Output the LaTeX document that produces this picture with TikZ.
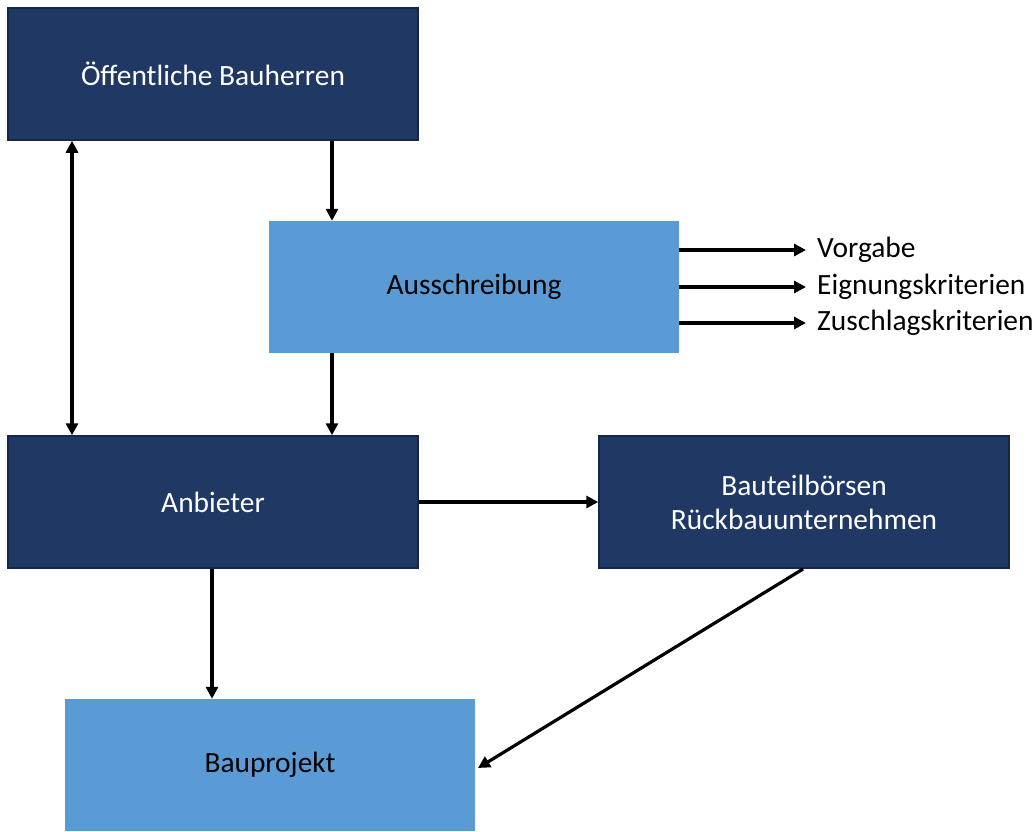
\documentclass[tikz,border=0pt]{standalone}
\usepackage{fontspec}
\setmainfont{Carlito}
\usetikzlibrary{arrows.meta}
\definecolor{darkbox}{HTML}{203864}
\definecolor{darkedge}{HTML}{15264A}
\definecolor{lightbox}{HTML}{5B9BD5}
\begin{document}
\begin{tikzpicture}[x=1pt,y=-1pt,
  dbox/.style={draw=darkedge,line width=1.5pt,fill=darkbox,text=white,minimum width=410pt,minimum height=132pt,inner sep=0pt,align=center,font=\fontsize{29.4}{34}\selectfont},
  lbox/.style={draw=none,fill=lightbox,text=black,minimum width=410pt,minimum height=132pt,inner sep=0pt,align=center,font=\fontsize{29.4}{34}\selectfont},
  arr/.style={line width=3.2pt,-{Triangle[length=12pt,width=12pt]}},
  darr/.style={line width=3.2pt,{Triangle[length=12pt,width=12pt]}-{Triangle[length=12pt,width=12pt]}},
  lab/.style={anchor=west,inner sep=0pt,font=\fontsize{29.4}{34}\selectfont}]
\useasboundingbox (0,0) rectangle (1036,831);
\node[dbox] (bh) at (213,74) {Öffentliche Bauherren};
\node[lbox] (as) at (474,287) {Ausschreibung};
\node[dbox] (an) at (213,502) {Anbieter};
\node[dbox] (bt) at (804,502) {Bauteilbörsen\\Rückbauunternehmen};
\node[lbox] (bp) at (270,765) {Bauprojekt};
\node[lab] (v) at (817,250) {Vorgabe};
\node[lab] (e) at (817,287) {Eignungskriterien};
\node[lab] (z) at (817,323) {Zuschlagskriterien};
\coordinate (bpin) at (478,768);
\coordinate (btout) at (803,569);
\draw[darr] (bh.south -| 72,0) -- (an.north -| 72,0);
\draw[arr] (bh.south -| 332,0) -- (as.north -| 332,0);
\draw[arr] (as.south -| 332,0) -- (an.north -| 332,0);
\draw[arr,shorten >=11pt] (as.east |- v) -- (v.west);
\draw[arr,shorten >=11pt] (as.east |- e) -- (e.west);
\draw[arr,shorten >=11pt] (as.east |- z) -- (z.west);
\draw[arr] (an.east) -- (bt.west);
\draw[arr] (an.south -| 212,0) -- (bp.north -| 212,0);
\draw[arr] (btout) -- (bpin);
\end{tikzpicture}
\end{document}
